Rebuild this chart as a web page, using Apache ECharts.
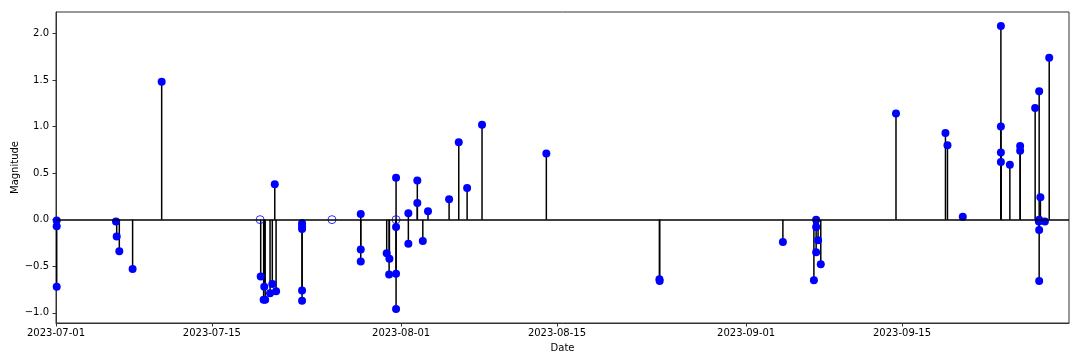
<!DOCTYPE html>
<html>
<head>
<meta charset="utf-8">
<script src="https://cdn.jsdelivr.net/npm/echarts@6/dist/echarts.min.js"></script>
<style>
  html, body { margin: 0; padding: 0; background: #fff; }
  #chart { width: 1080px; height: 360px; }
</style>
</head>
<body>
<div id="chart"></div>
<script>
// Event times (local) and their magnitudes
const eventTimes = [
  '2023-07-01 01:30', '2023-07-01 01:30', '2023-07-01 01:30',
  '2023-07-06 09:20', '2023-07-06 10:50', '2023-07-06 16:30',
  '2023-07-07 21:10', '2023-07-10 11:50',
  '2023-07-19 09:20', '2023-07-19 15:40', '2023-07-19 17:00', '2023-07-19 19:00',
  '2023-07-20 05:30', '2023-07-20 10:20', '2023-07-20 15:40', '2023-07-20 18:30',
  '2023-07-23 02:30', '2023-07-23 02:30', '2023-07-23 02:30', '2023-07-23 02:30', '2023-07-23 02:30',
  '2023-07-28 09:00', '2023-07-28 09:00', '2023-07-28 09:00',
  '2023-07-30 17:00', '2023-07-30 22:10', '2023-07-30 22:50',
  '2023-07-31 13:10', '2023-07-31 13:10', '2023-07-31 13:10', '2023-07-31 13:10',
  '2023-08-01 15:40', '2023-08-01 15:40',
  '2023-08-02 11:00', '2023-08-02 11:00', '2023-08-02 22:50',
  '2023-08-03 10:00', '2023-08-05 07:30', '2023-08-06 04:20', '2023-08-06 22:20',
  '2023-08-08 06:30', '2023-08-14 01:10',
  '2023-08-24 05:00', '2023-08-24 05:30',
  '2023-09-04 07:10',
  '2023-09-07 02:00', '2023-09-07 06:50', '2023-09-07 06:50', '2023-09-07 06:50',
  '2023-09-07 11:00', '2023-09-07 16:50',
  '2023-09-14 11:00', '2023-09-18 21:40', '2023-09-19 02:00', '2023-09-20 11:00',
  '2023-09-23 21:10', '2023-09-23 21:10', '2023-09-23 21:10', '2023-09-23 21:10',
  '2023-09-24 16:30', '2023-09-25 14:40', '2023-09-25 14:40',
  '2023-09-26 23:00', '2023-09-27 07:00',
  '2023-09-27 07:40', '2023-09-27 07:40', '2023-09-27 07:40', '2023-09-27 07:40',
  '2023-09-27 10:20', '2023-09-27 20:00', '2023-09-28 05:20'
];
const magnitudes = [
  -0.01, -0.07, -0.72,
  -0.02, -0.18, -0.34,
  -0.53, 1.48,
  -0.61, -0.86, -0.72, -0.86,
  -0.79, -0.69, 0.38, -0.77,
  -0.04, -0.07, -0.10, -0.76, -0.87,
  0.06, -0.32, -0.45,
  -0.36, -0.59, -0.42,
  0.45, -0.08, -0.58, -0.96,
  0.07, -0.26,
  0.42, 0.18, -0.23,
  0.09, 0.22, 0.83, 0.34,
  1.02, 0.71,
  -0.64, -0.66,
  -0.24,
  -0.65, 0.00, -0.08, -0.35,
  -0.22, -0.48,
  1.14, 0.93, 0.80, 0.03,
  2.08, 1.00, 0.72, 0.62,
  0.59, 0.79, 0.74,
  1.20, -0.02,
  1.38, 0.00, -0.11, -0.66,
  0.24, -0.02, 1.74
];
// Events drawn with hollow markers (zero magnitude)
const zeroEventTimes = ['2023-07-19 08:00', '2023-07-25 19:00', '2023-07-31 13:10'];
const zeroEventValues = [0, 0, 0];

const xRange = ['2023-07-01', '2023-09-30'];
const xTickLabels = ['2023-07-01', '2023-07-15', '2023-08-01', '2023-08-15', '2023-09-01', '2023-09-15'];
const yTickValues = [-1.0, -0.5, 0.0, 0.5, 1.0, 1.5, 2.0];
const yRange = [-1.11, 2.23];

const toTs = s => echarts.number.parseDate(s).getTime();
const eventData = eventTimes.map((t, i) => [toTs(t), magnitudes[i]]);
const zeroData = zeroEventTimes.map((t, i) => [toTs(t), zeroEventValues[i]]);
const xTickValues = xTickLabels.map(toTs);

const font = { fontFamily: 'DejaVu Sans', fontSize: 10, color: '#000' };
const chart = echarts.init(document.getElementById('chart'), null, { renderer: 'canvas' });
chart.setOption({
  animation: false,
  backgroundColor: '#fff',
  grid: { left: 56, right: 11, top: 12, bottom: 37, outerBoundsMode: 'none', containLabel: false,
          show: true, borderColor: '#333', borderWidth: 1, backgroundColor: 'transparent' },
  xAxis: {
    type: 'value',
    min: toTs(xRange[0]),
    max: toTs(xRange[1]),
    name: 'Date',
    nameLocation: 'middle',
    nameGap: 20,
    nameMoveOverlap: false,
    nameTextStyle: font,
    axisLine: { show: true, onZero: false, lineStyle: { color: '#333', width: 1 } },
    axisTick: { show: true, inside: false, length: 3.5, lineStyle: { color: '#333' }, customValues: xTickValues },
    axisLabel: Object.assign({}, font, {
      margin: 5,
      customValues: xTickValues,
      formatter: v => xTickLabels[xTickValues.indexOf(v)] || '',
      hideOverlap: false
    }),
    splitLine: { show: false }
  },
  yAxis: {
    type: 'value',
    min: yRange[0],
    max: yRange[1],
    name: 'Magnitude',
    nameLocation: 'middle',
    nameGap: 36,
    nameMoveOverlap: false,
    nameRotate: 90,
    nameTextStyle: font,
    axisLine: { show: true, lineStyle: { color: '#333', width: 1 } },
    axisTick: { show: true, inside: false, length: 3.5, lineStyle: { color: '#333' }, customValues: yTickValues },
    axisLabel: Object.assign({}, font, {
      margin: 7,
      customValues: yTickValues,
      formatter: v => v.toFixed(1).replace('-', '\u2212')
    }),
    splitLine: { show: false }
  },
  series: [
    {
      type: 'custom',
      data: eventData,
      z: 2,
      renderItem: (params, api) => {
        const p0 = api.coord([api.value(0), 0]);
        const p1 = api.coord([api.value(0), api.value(1)]);
        return {
          type: 'line',
          shape: { x1: p0[0], y1: p0[1], x2: p1[0], y2: p1[1] },
          style: { stroke: '#000', lineWidth: 1.5 }
        };
      },
      markLine: {
        silent: true,
        symbol: 'none',
        label: { show: false },
        lineStyle: { color: '#000', width: 1.5, type: 'solid' },
        data: [{ yAxis: 0 }]
      }
    },
    {
      type: 'scatter',
      data: eventData,
      symbol: 'circle',
      symbolSize: 8,
      z: 4,
      itemStyle: { color: '#0000ff', opacity: 1 }
    },
    {
      type: 'scatter',
      data: zeroData,
      symbol: 'circle',
      symbolSize: 8,
      z: 4,
      itemStyle: { color: 'rgba(0,0,0,0)', borderColor: '#0000ff', borderWidth: 1 }
    }
  ]
});
</script>
</body>
</html>
